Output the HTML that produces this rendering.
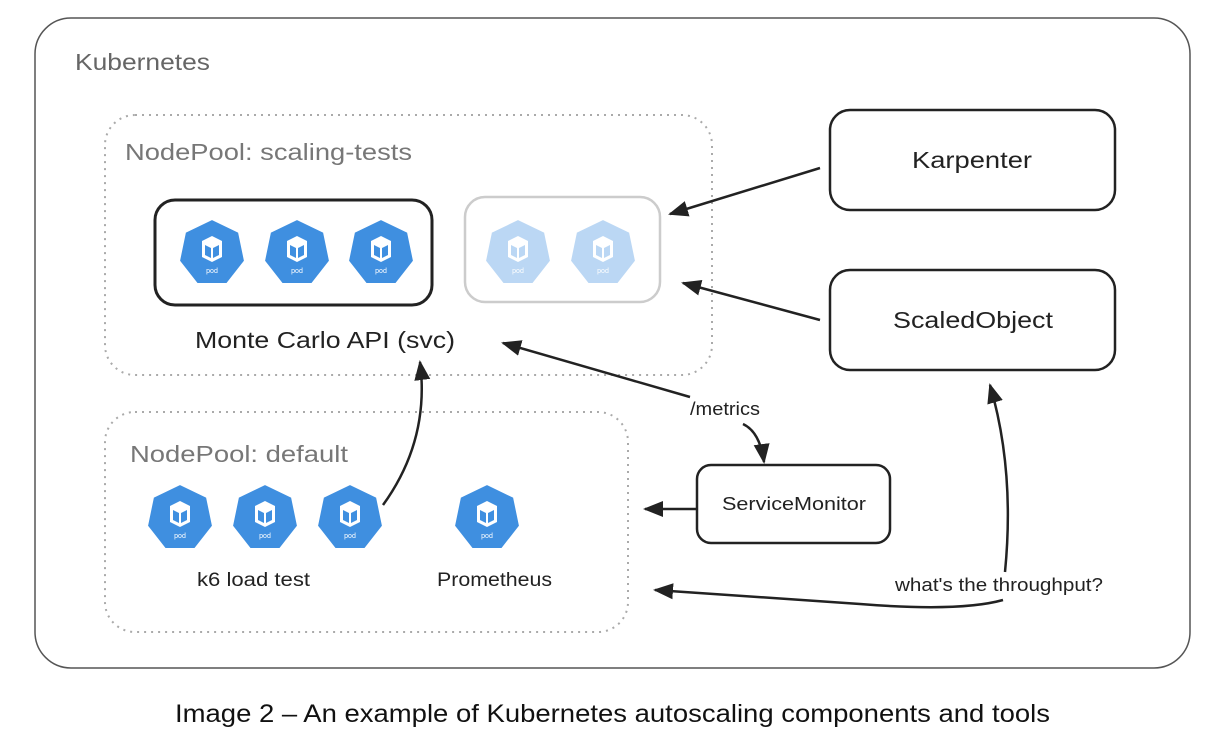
<!DOCTYPE html>
<html><head><meta charset="utf-8"><style>
body{margin:0;background:#fff;}
svg{display:block;font-family:"Liberation Sans",sans-serif;}
</style></head><body>
<svg width="1224" height="736" viewBox="0 0 1224 736" xmlns="http://www.w3.org/2000/svg">
<defs>
<marker id="ah2" markerWidth="20" markerHeight="20" refX="18" refY="10" orient="auto" markerUnits="userSpaceOnUse" viewBox="0 0 20 20">
<path d="M0,2 L20,10 L0,18 z" fill="#222"/></marker>
<g id="pod">
<polygon points="0,-34 27,-21 33,8 15,31 -15,31 -33,8 -27,-21" fill="#3f8fe0" stroke="#fff" stroke-width="2"/>
<path d="M-10,-12 L0,-17 L10,-12 L10,4 L0,9 L-10,4 Z" fill="#fff"/>
<path d="M-7,-8 L-1,-5 L-1,5 L-7,2 Z M7,-8 L1,-5 L1,5 L7,2 Z" fill="#3f8fe0"/>
<text x="0" y="20" font-size="7" fill="#fff" text-anchor="middle">pod</text>
</g>
</defs>
<rect x="35" y="18" width="1155" height="650" rx="36" fill="none" stroke="#555" stroke-width="1.5"/>
<text x="75" y="70" font-size="23" fill="#666" textLength="135" lengthAdjust="spacingAndGlyphs">Kubernetes</text>

<rect x="105" y="115" width="607" height="260" rx="30" fill="none" stroke="#aaa" stroke-width="2" stroke-dasharray="2,5"/>
<text x="125" y="160" font-size="23" fill="#777" textLength="287" lengthAdjust="spacingAndGlyphs">NodePool: scaling-tests</text>
<rect x="155" y="200" width="277" height="105" rx="20" fill="none" stroke="#222" stroke-width="3"/>
<use href="#pod" x="212" y="253"/><use href="#pod" x="297" y="253"/><use href="#pod" x="381" y="253"/>
<rect x="465" y="197" width="195" height="105" rx="20" fill="none" stroke="#ccc" stroke-width="2.5"/>
<g opacity="0.35"><use href="#pod" x="518" y="253"/><use href="#pod" x="603" y="253"/></g>
<text x="195" y="348" font-size="23" fill="#222" textLength="260" lengthAdjust="spacingAndGlyphs">Monte Carlo API (svc)</text>

<rect x="105" y="412" width="523" height="220" rx="30" fill="none" stroke="#aaa" stroke-width="2" stroke-dasharray="2,5"/>
<text x="130" y="462" font-size="23" fill="#777" textLength="218" lengthAdjust="spacingAndGlyphs">NodePool: default</text>
<use href="#pod" x="180" y="518"/><use href="#pod" x="265" y="518"/><use href="#pod" x="350" y="518"/><use href="#pod" x="487" y="518"/>
<text x="197" y="586" font-size="19" fill="#222" textLength="113" lengthAdjust="spacingAndGlyphs">k6 load test</text>
<text x="437" y="586" font-size="19" fill="#222" textLength="115" lengthAdjust="spacingAndGlyphs">Prometheus</text>

<rect x="830" y="110" width="285" height="100" rx="20" fill="#fff" stroke="#222" stroke-width="2.5"/>
<text x="912" y="168" font-size="23" fill="#222" textLength="120" lengthAdjust="spacingAndGlyphs">Karpenter</text>
<rect x="830" y="270" width="285" height="100" rx="20" fill="#fff" stroke="#222" stroke-width="2.5"/>
<text x="893" y="328" font-size="23" fill="#222" textLength="160" lengthAdjust="spacingAndGlyphs">ScaledObject</text>
<rect x="697" y="465" width="193" height="78" rx="14" fill="#fff" stroke="#222" stroke-width="2.5"/>
<text x="722" y="510" font-size="18" fill="#222" textLength="144" lengthAdjust="spacingAndGlyphs">ServiceMonitor</text>

<g stroke="#222" stroke-width="2.5" fill="none">
<line x1="820" y1="168" x2="670" y2="214" marker-end="url(#ah2)"/>
<line x1="820" y1="320" x2="683" y2="283" marker-end="url(#ah2)"/>
<line x1="690" y1="397" x2="503" y2="343" marker-end="url(#ah2)"/>
<path d="M743,424 Q760,432 764,462" marker-end="url(#ah2)"/>
<line x1="697" y1="509" x2="645" y2="509" marker-end="url(#ah2)"/>
<path d="M1003,600 Q960,612 860,604 L655,590" marker-end="url(#ah2)"/>
<path d="M1005,572 Q1015,470 990,385" marker-end="url(#ah2)"/>
<path d="M383,505 Q430,440 420,362" marker-end="url(#ah2)"/>
</g>
<text x="690" y="415" font-size="18" fill="#222" textLength="70" lengthAdjust="spacingAndGlyphs">/metrics</text>
<text x="895" y="591" font-size="18" fill="#222" textLength="208" lengthAdjust="spacingAndGlyphs">what's the throughput?</text>

<text x="175" y="722" font-size="25" fill="#111" textLength="875" lengthAdjust="spacingAndGlyphs">Image 2 – An example of Kubernetes autoscaling components and tools</text>
</svg>
</body></html>
